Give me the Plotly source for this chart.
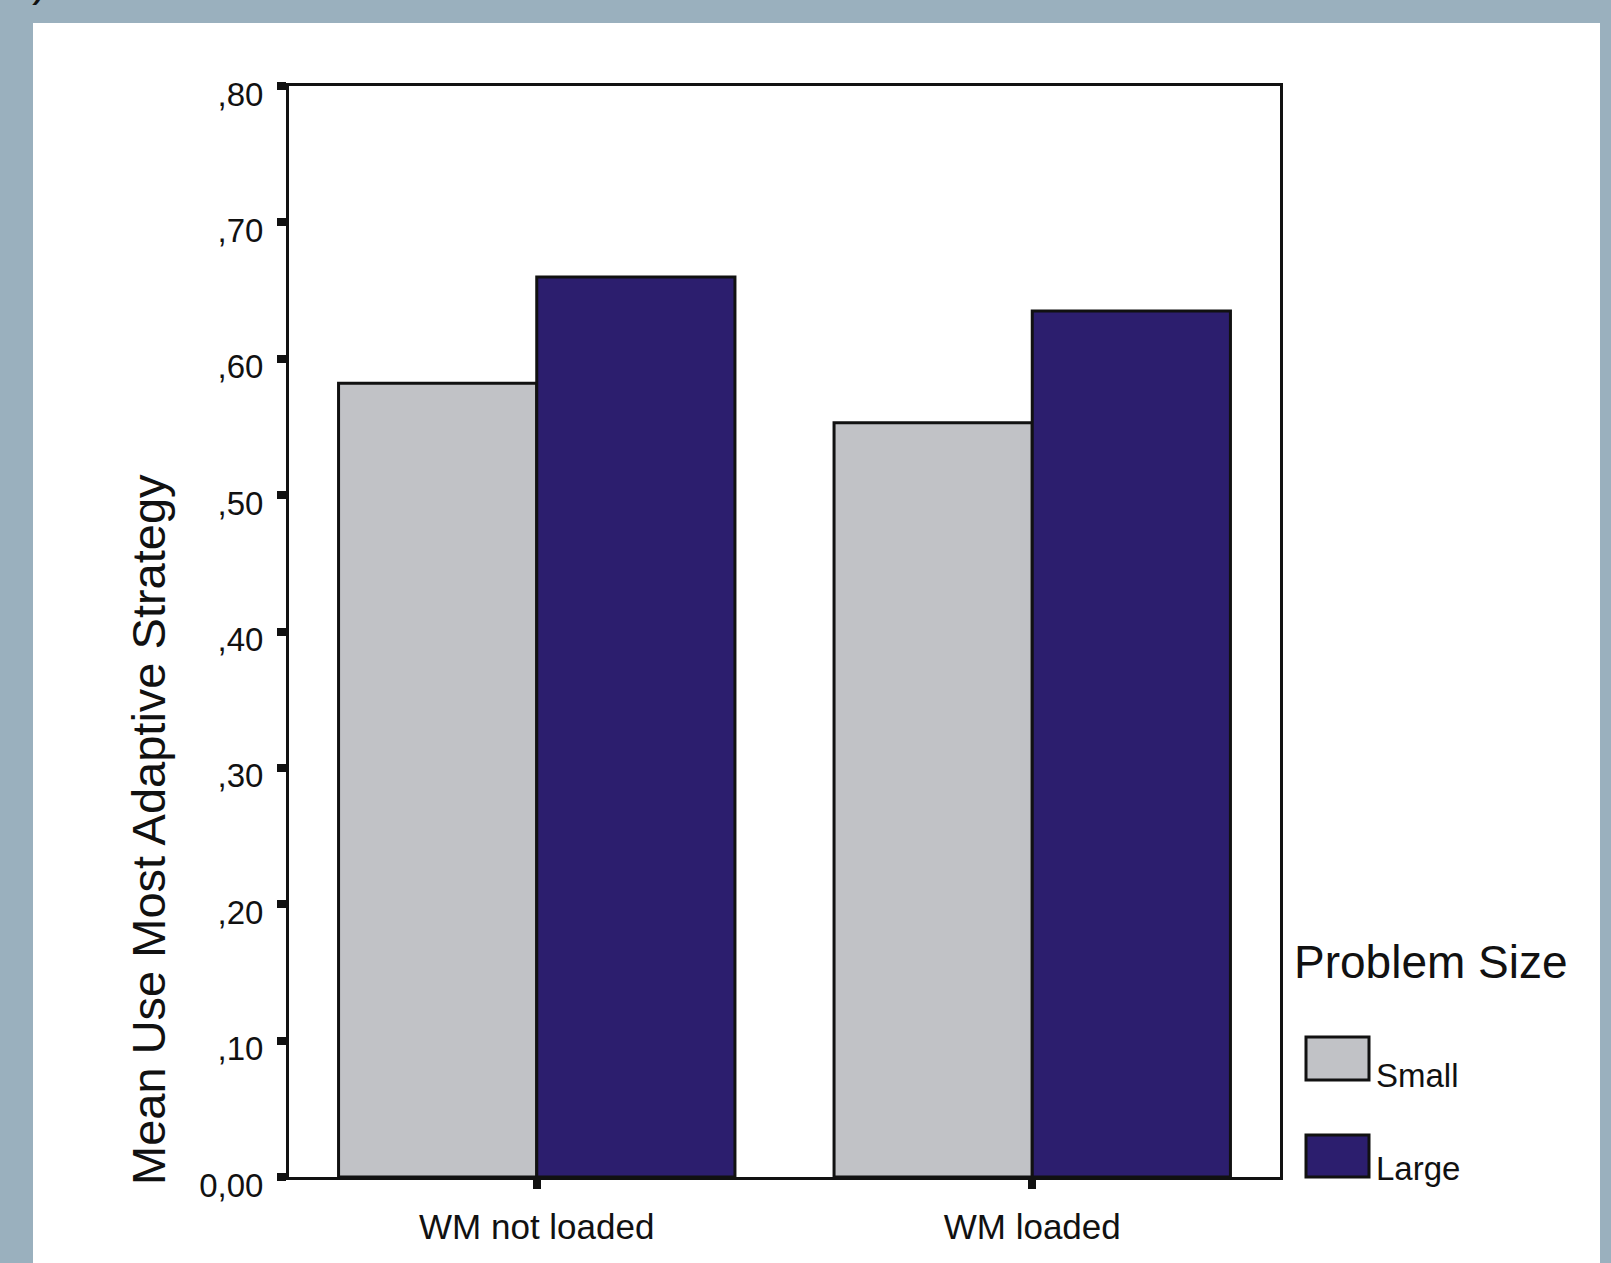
import plotly.graph_objects as go

# ---- data ----
categories = ["WM not loaded", "WM loaded"]
series_names = ["Small", "Large"]
small_values = [0.582, 0.553]
large_values = [0.660, 0.635]
y_tickvals = [0.0, 0.1, 0.2, 0.3, 0.4, 0.5, 0.6, 0.7, 0.8]
y_ticktext = ["0,00", ",10", ",20", ",30", ",40", ",50", ",60", ",70", ",80"]
legend_title = "Problem Size"
y_title = "Mean Use Most Adaptive Strategy"

# ---- styling ----
W, H = 1611, 1263
L, R, T, B = 289, 1280, 86, 1177   # plot area in pixels
FONT = "Liberation Sans, Arial, sans-serif"
BG = "#9AB0BE"
C_SMALL = "#C1C2C6"
C_LARGE = "#2C1E6E"

def px(x):
    return (x - L) / (R - L)

def py(y):
    return (B - y) / (B - T)

fig = go.Figure()
fig.add_trace(go.Bar(x=categories, y=small_values, name=series_names[0],
                     marker=dict(color=C_SMALL, line=dict(color="#111111", width=3))))
fig.add_trace(go.Bar(x=categories, y=large_values, name=series_names[1],
                     marker=dict(color=C_LARGE, line=dict(color="#111111", width=3))))

shapes = [
    # white panel on the blue-grey page
    dict(type="rect", xref="paper", yref="paper", x0=px(33), x1=px(1600), y0=py(1300), y1=py(23),
         fillcolor="white", line=dict(width=0), layer="below"),
    # legend swatches
    dict(type="rect", xref="paper", yref="paper", x0=px(1306), x1=px(1369), y0=py(1080), y1=py(1037),
         fillcolor=C_SMALL, line=dict(color="#111111", width=3)),
    dict(type="rect", xref="paper", yref="paper", x0=px(1306), x1=px(1369), y0=py(1177), y1=py(1135),
         fillcolor=C_LARGE, line=dict(color="#111111", width=3)),
]

annotations = [
    dict(text=y_title, xref="paper", yref="paper", x=px(148), y=py(830), xanchor="center",
         yanchor="middle", textangle=-90, showarrow=False,
         font=dict(family=FONT, size=47, color="#111111")),
    dict(text=legend_title, xref="paper", yref="paper", x=px(1292), y=py(962), xanchor="left",
         yanchor="middle", showarrow=False, font=dict(family=FONT, size=46, color="#111111")),
    dict(text=series_names[0], xref="paper", yref="paper", x=px(1374), y=py(1075), xanchor="left",
         yanchor="middle", showarrow=False, font=dict(family=FONT, size=33, color="#111111")),
    dict(text=series_names[1], xref="paper", yref="paper", x=px(1374), y=py(1168), xanchor="left",
         yanchor="middle", showarrow=False, font=dict(family=FONT, size=33, color="#111111")),
    # cut-off caption fragment at the very top-left
    dict(text=")", xref="paper", yref="paper", x=px(30), y=py(8), xanchor="left",
         yanchor="bottom", showarrow=False, font=dict(family=FONT, size=45, color="#111111")),
]

fig.update_layout(
    width=W, height=H,
    margin=dict(l=L, r=W - R, t=T, b=H - B, pad=0),
    paper_bgcolor=BG, plot_bgcolor="white",
    barmode="group", bargap=0.2, bargroupgap=0,
    showlegend=False,
    shapes=shapes, annotations=annotations,
    font=dict(family=FONT, color="#111111"),
)
fig.update_xaxes(
    showline=True, mirror=True, linewidth=3, linecolor="#111111",
    showgrid=False, zeroline=False,
    ticks="outside", ticklen=9, tickwidth=8, tickcolor="#111111",
    tickfont=dict(family=FONT, size=35, color="#111111"), ticklabelstandoff=8,
)
fig.update_yaxes(
    range=[0, 0.8], tickvals=y_tickvals, ticktext=y_ticktext,
    showline=True, mirror=True, linewidth=3, linecolor="#111111",
    showgrid=False, zeroline=False,
    ticks="outside", ticklen=9, tickwidth=8, tickcolor="#111111",
    tickfont=dict(family=FONT, size=33, color="#111111"), ticklabelstandoff=7,
    ticklabelshift=8,
)

fig.write_html("out.html", config={"displayModeBar": False},
               post_script="document.body.style.margin='0';document.body.style.overflow='hidden';")
